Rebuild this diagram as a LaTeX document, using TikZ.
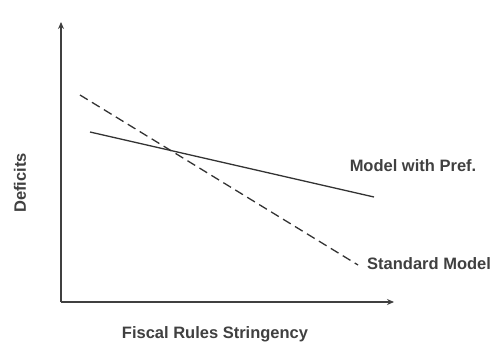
\documentclass[tikz,border=0pt]{standalone}
\usepackage{fontspec}
\setmainfont{Liberation Sans}
\usetikzlibrary{positioning, arrows.meta}
\tikzset{
  axis/.style    = {-{Stealth[length=7pt,width=6pt]}, line width=1.6pt, draw=black!75},
  curve/.style   = {line width=1.3pt, draw=black!80},
  lbl/.style     = {font=\bfseries\fontsize{16.5}{19}\selectfont, text=black!75, inner sep=0pt}
}

\begin{document}
\begin{tikzpicture}[x=1pt, y=-1pt]
        \useasboundingbox (0,0) rectangle (494,345);
        \coordinate (o)  at (61, 302);
        \coordinate (yt) at (61, 22);
        \coordinate (xt) at (394, 302);
        \draw[axis] (o) -- (yt);
        \draw[axis] (o) -- (xt);
        \coordinate (s1) at (80, 95);
        \coordinate (s2) at (358, 265);
        \coordinate (p1) at (90, 132);
        \coordinate (p2) at (374, 197);
        \draw[curve, dashed, dash pattern=on 9pt off 5pt] (s1) -- (s2);
        \draw[curve] (p1) -- (p2);
        \node[lbl] (pref) at (413, 166) {Model with Pref.};
        \node[lbl, anchor=west] (std) at (367, 264) {Standard Model};
        \node[lbl] (xl) at (215, 334) {Fiscal Rules Stringency};
        \node[lbl, rotate=90] (yl) at (20, 183) {Deficits};
      \end{tikzpicture}
\end{document}
